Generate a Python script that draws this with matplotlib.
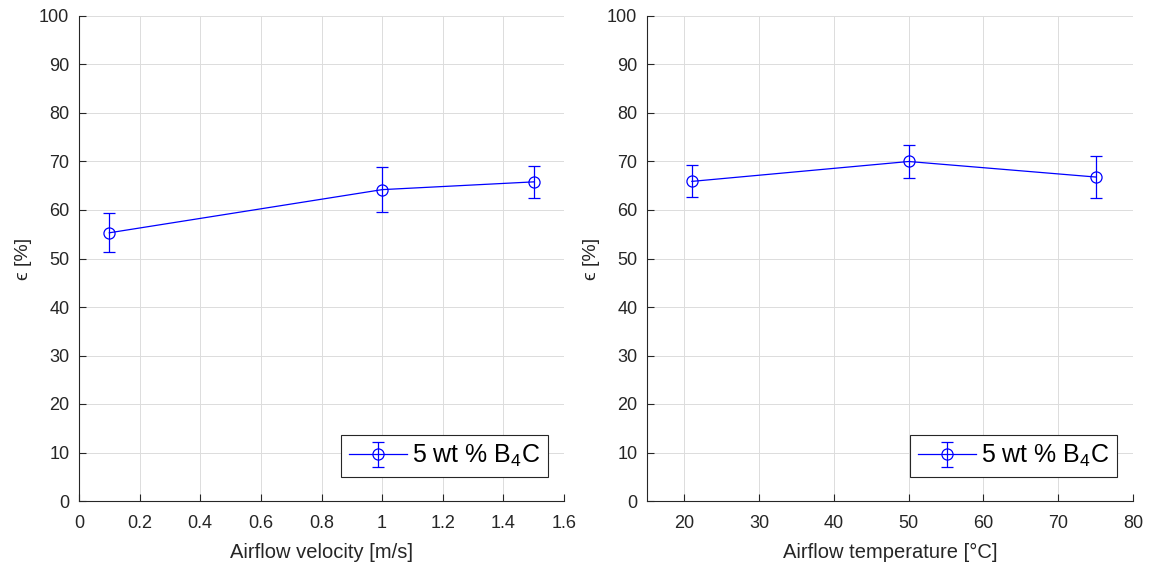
import matplotlib
matplotlib.use("Agg")
import matplotlib.pyplot as plt

plt.rcParams['font.family'] = ['Liberation Sans', 'DejaVu Sans']
plt.rcParams['mathtext.fontset'] = 'custom'
plt.rcParams['mathtext.rm'] = 'Liberation Sans'
plt.rcParams['mathtext.it'] = 'Liberation Sans:italic'
plt.rcParams['mathtext.default'] = 'regular'

# Efficiency vs airflow velocity
velocity = [0.1, 1.0, 1.5]
eff_velocity = [55.3, 64.2, 65.8]
err_velocity = [4.0, 4.7, 3.3]

# Efficiency vs airflow temperature
temperature = [21, 50, 75]
eff_temperature = [65.9, 70.0, 66.8]
err_temperature = [3.3, 3.3, 4.3]

series_label = '5 wt % B$_4$C'
y_label = '\u03f5 [%]'
x_labels = ['Airflow velocity [m/s]', 'Airflow temperature [°C]']

W, H = 1150, 568
fig = plt.figure(figsize=(W / 100, H / 100), dpi=100)
ax1 = fig.add_axes([79 / W, (H - 501) / H, 485 / W, 485 / H])
ax2 = fig.add_axes([647 / W, (H - 501) / H, 486 / W, 485 / H])

text_col = '#262626'

def draw(ax, x, y, e, xlim, xticks, xlabel):
    ax.errorbar(x, y, yerr=e, color='#0000FF', lw=0.9, elinewidth=0.9,
                marker='o', markersize=8, markerfacecolor='none',
                markeredgewidth=0.9, capsize=4.5, capthick=0.9,
                label=series_label)
    ax.set_xlim(*xlim)
    ax.set_ylim(0, 100)
    ax.set_xticks(xticks)
    ax.set_yticks(range(0, 101, 10))
    ax.grid(True, color='#dcdcdc', lw=0.7)
    ax.set_axisbelow(True)
    for s in ('top', 'right'):
        ax.spines[s].set_visible(False)
    for s in ('left', 'bottom'):
        ax.spines[s].set_color(text_col)
        ax.spines[s].set_linewidth(0.8)
    ax.tick_params(direction='in', length=5, width=0.8, color=text_col,
                   labelcolor=text_col, labelsize=13, pad=7)
    ax.tick_params(axis='x', pad=10)
    ax.set_xlabel(xlabel, fontsize=14.5, color=text_col, labelpad=8)
    ax.set_ylabel(y_label, fontsize=14, color=text_col, labelpad=5,
                  family=['Liberation Sans', 'DejaVu Sans'])
    leg = ax.legend(loc='lower right', bbox_to_anchor=(1 - 16 / 485, 24 / 485),
                    borderaxespad=0, fontsize=18, fancybox=False,
                    framealpha=1, edgecolor=text_col, borderpad=0.32,
                    handlelength=2.3, handletextpad=0.2)
    leg.get_frame().set_linewidth(0.8)

draw(ax1, velocity, eff_velocity, err_velocity, (0, 1.6),
     [0, 0.2, 0.4, 0.6, 0.8, 1.0, 1.2, 1.4, 1.6], x_labels[0])
ax1.set_xticklabels(['0', '0.2', '0.4', '0.6', '0.8', '1', '1.2', '1.4', '1.6'])
draw(ax2, temperature, eff_temperature, err_temperature, (15, 80),
     [20, 30, 40, 50, 60, 70, 80], x_labels[1])

fig.savefig('out.png', dpi=100)
